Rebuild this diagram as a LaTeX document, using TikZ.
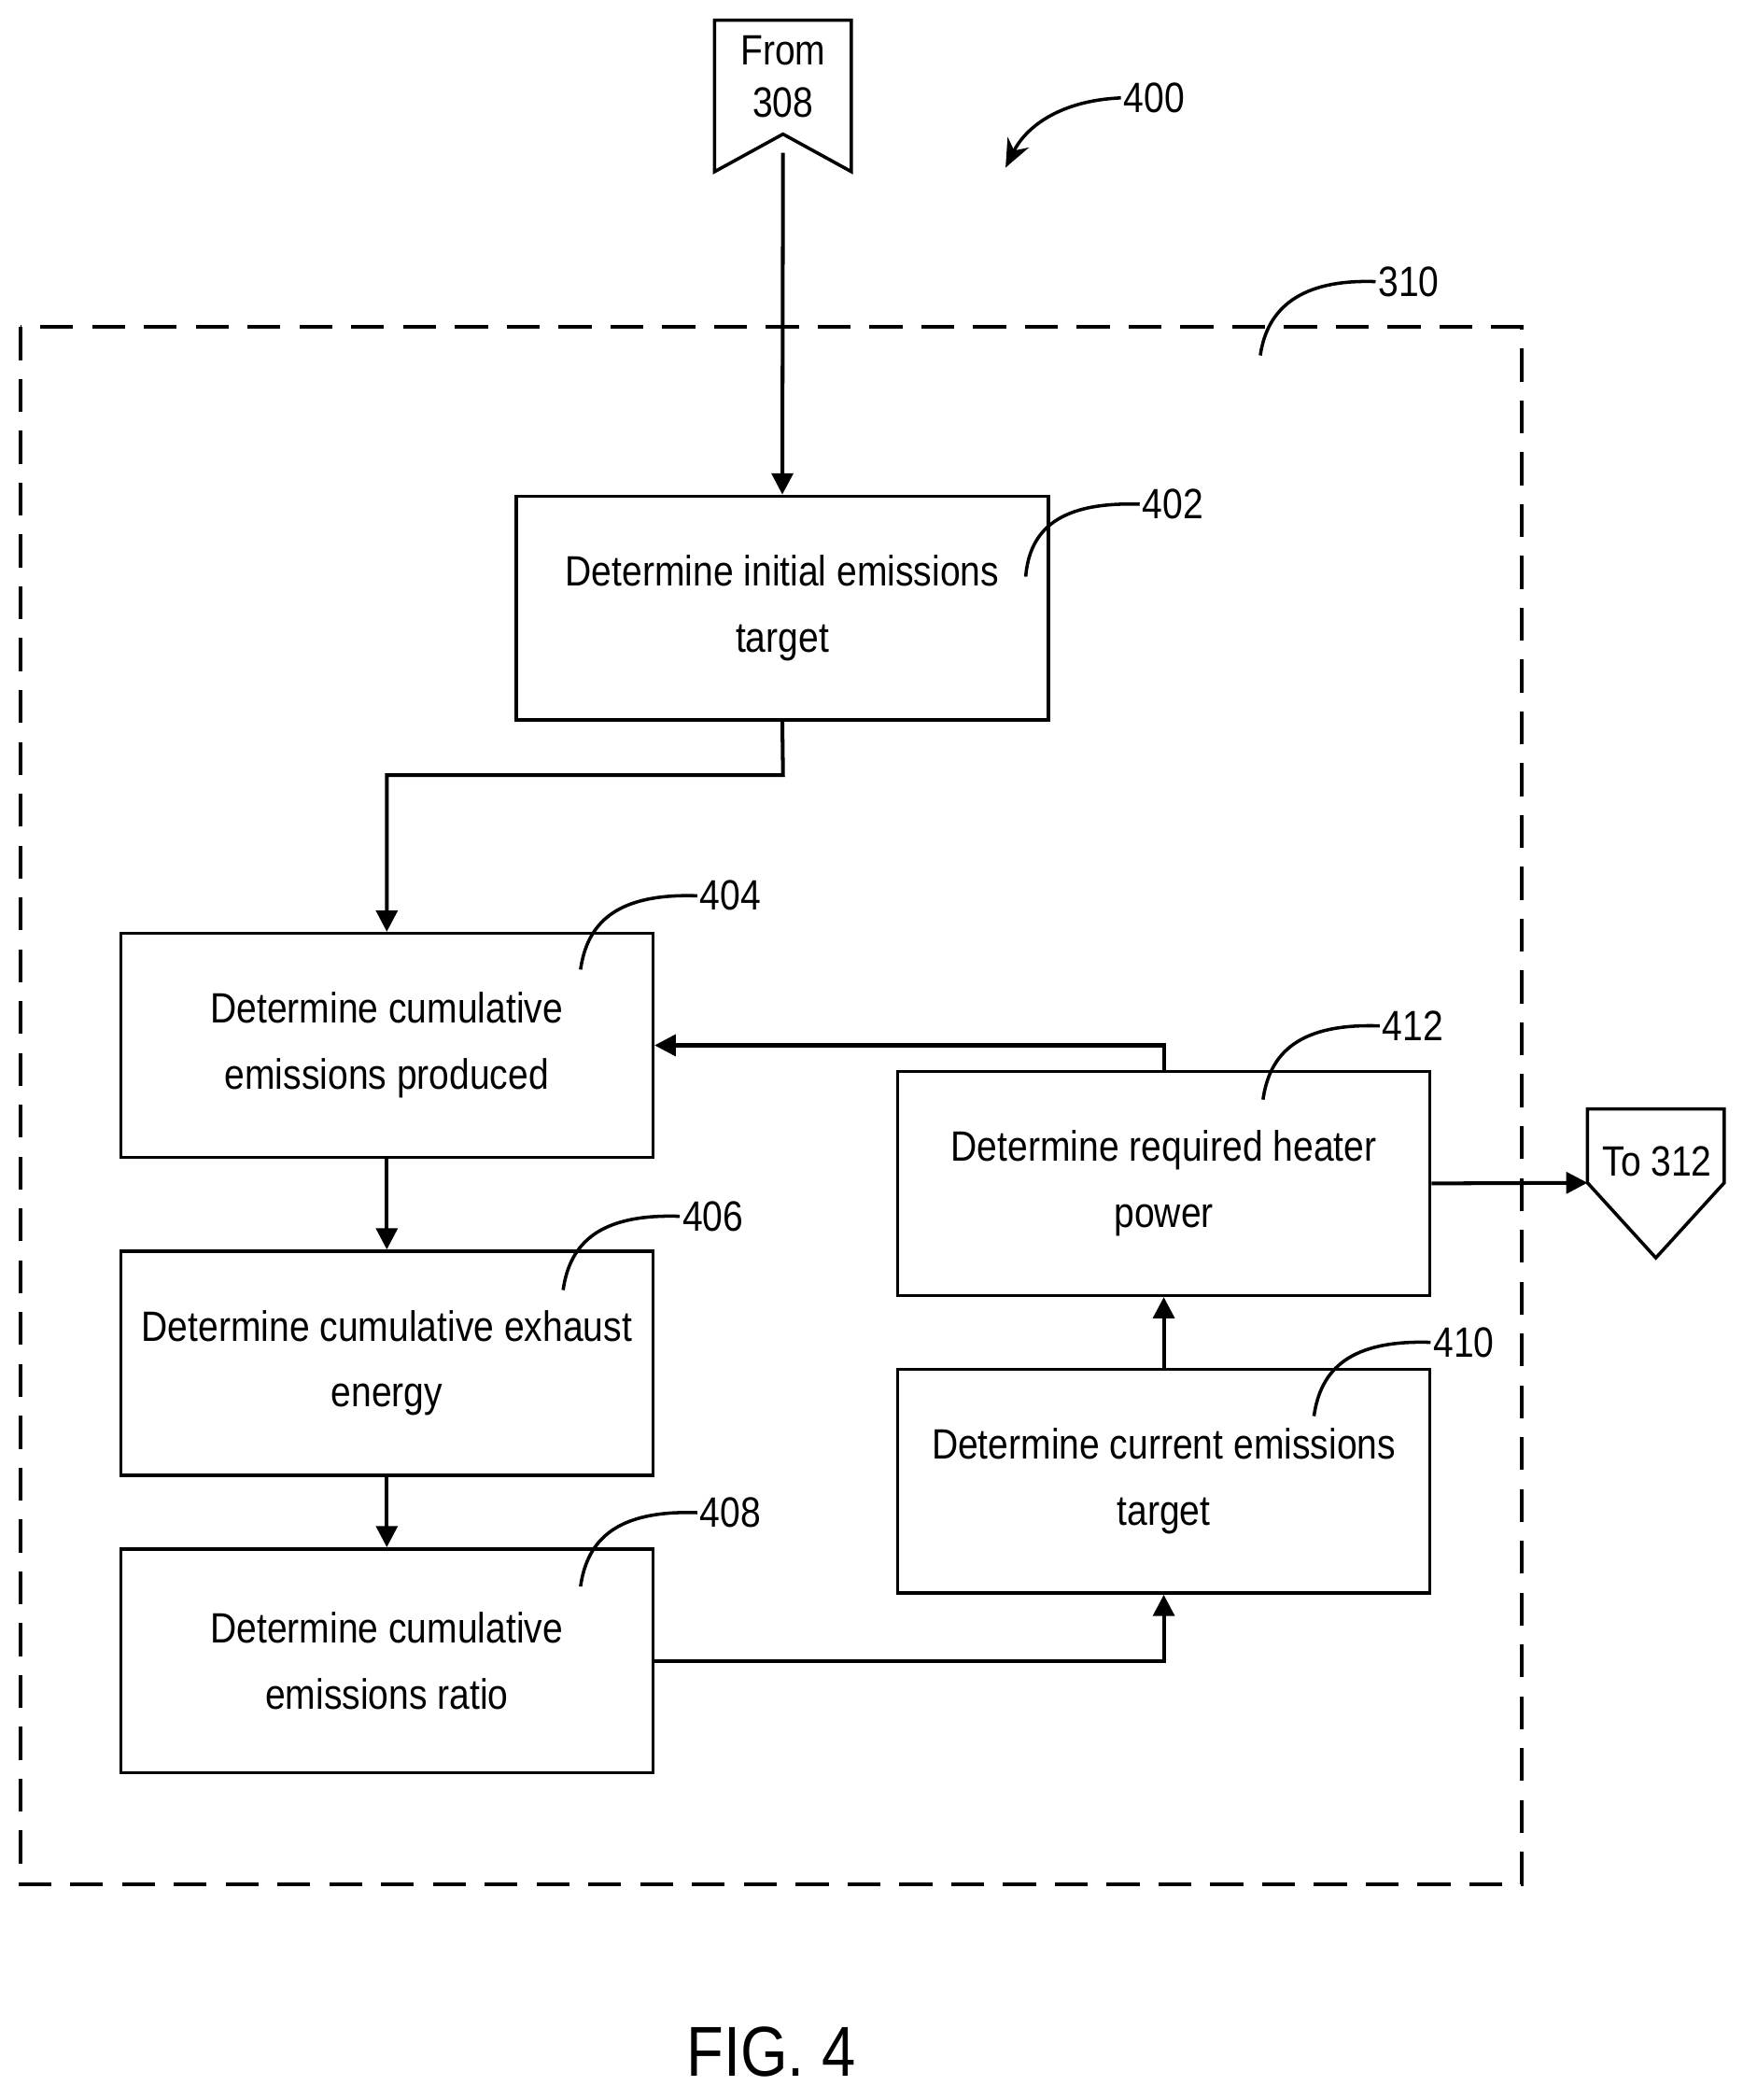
\documentclass[tikz,border=0pt]{standalone}
\usepackage{fontspec}
\setmainfont{Liberation Sans}[FakeStretch=0.86]
\usetikzlibrary{arrows.meta}
\begin{document}
\begin{tikzpicture}[x=0.02cm,y=-0.02cm,
  box/.style={draw,line width=1.4pt,minimum width=7.94cm,minimum height=3.34cm,align=center,font=\fontsize{18}{28}\selectfont,inner sep=0pt},
  ar/.style={line width=1.6pt,-{Triangle[length=9pt,width=9pt]}},
  lbl/.style={font=\fontsize{18}{20}\selectfont,anchor=west,inner sep=1pt},
  ld/.style={line width=1.4pt}]
\useasboundingbox (0,0) rectangle (1300,1566);
\draw[line width=1.6pt,dash pattern=on 14pt off 8pt] (15,244) rectangle (1135,1405);
\node[box] (n402) at (583.5,453.5) {Determine initial emissions\\target};
\node[box] (n404) at (288.5,779.5) {Determine cumulative\\emissions produced};
\node[box] (n406) at (288.5,1016.5) {Determine cumulative exhaust\\energy};
\node[box] (n408) at (288.5,1238.5) {Determine cumulative\\emissions ratio};
\node[box] (n412) at (868,882.5) {Determine required heater\\power};
\node[box] (n410) at (868,1104.5) {Determine current emissions\\target};
% from 308
\draw[line width=1.4pt] (533,15) -- (635,15) -- (635,128) -- (584,100) -- (533,128) -- cycle;
\node[font=\fontsize{18}{22}\selectfont,align=center] (from) at (584,57) {From\\308};
\coordinate (fb) at (584,114);
\draw[ar] (fb) -- (n402.north);
% to 312
\draw[line width=1.4pt] (1184,827) -- (1286,827) -- (1286,882) -- (1235,938) -- (1184,882) -- cycle;
\node[font=\fontsize{18}{20}\selectfont] (to) at (1236,866) {To 312};
\coordinate (tl) at (1184,882);
\draw[ar] (n412.east) -- (tl);
\draw[ar] (n402.south) -- (584,578) -| (n404.north);
\draw[ar] (n404) -- (n406);
\draw[ar] (n406) -- (n408);
\draw[ar] (n408.east) -| (n410.south);
\draw[ar] (n410) -- (n412);
\draw[ar] (n412.north) |- (n404.east);
% labels
\node[lbl] (l400) at (836,73) {400};
\draw[ld,-{Stealth[length=12pt,width=10pt]}] (l400.west) .. controls (790,75) and (765,95) .. (750,125);
\node[lbl] (l310) at (1026,210) {310};
\draw[ld] (l310.west) .. controls (970,208) and (945,230) .. (940,265);
\node[lbl] (l402) at (850,376) {402};
\draw[ld] (l402.west) .. controls (790,374) and (768,395) .. (765,430);
\node[lbl] (l404) at (520,668) {404};
\draw[ld] (l404.west) .. controls (460,666) and (438,688) .. (433,723);
\node[lbl] (l406) at (507,907) {406};
\draw[ld] (l406.west) .. controls (447,905) and (425,927) .. (420,962);
\node[lbl] (l408) at (520,1128) {408};
\draw[ld] (l408.west) .. controls (460,1126) and (438,1148) .. (433,1183);
\node[lbl] (l412) at (1029,765) {412};
\draw[ld] (l412.west) .. controls (969,763) and (947,785) .. (942,820);
\node[lbl] (l410) at (1067,1001) {410};
\draw[ld] (l410.west) .. controls (1007,999) and (985,1021) .. (980,1056);
\node[font=\fontsize{30}{34}\selectfont] (fig) at (575,1530) {FIG. 4};
\end{tikzpicture}
\end{document}
